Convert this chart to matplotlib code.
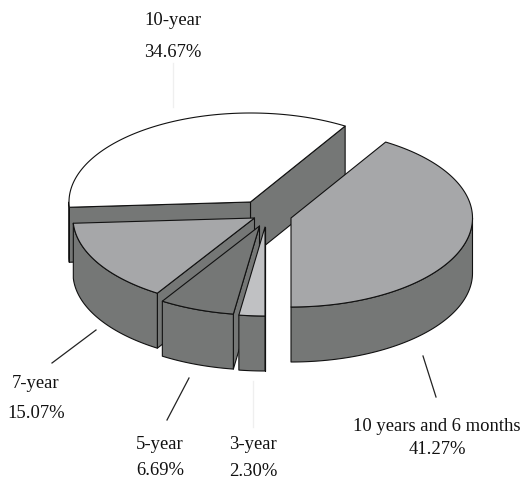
import numpy as np
import matplotlib
matplotlib.use('Agg')
import matplotlib.pyplot as plt
from matplotlib.patches import Polygon

# ---------------------------------------------------------
# 1. Data (in drawing order, counter-clockwise from bottom)
# ---------------------------------------------------------
names = ['10 years and 6 months', '10-year', '7-year', '5-year', '3-year']
shares = [41.27, 34.67, 15.07, 6.69, 2.30]

# ---------------------------------------------------------
# 2. Pie look
# ---------------------------------------------------------
centers = [(291, 218), (250.5, 202), (254.5, 218), (259.5, 226), (265, 227)]
top_colors = ['#a6a7a9', '#ffffff', '#a6a7a9', '#757776', '#c0c1c3']
side_color = '#757776'
rx, ry, depth = 181.5, 89, 55
edge = dict(edgecolor='#111111', linewidth=0.8, joinstyle='round')

plt.rcParams['font.family'] = ['Liberation Serif', 'DejaVu Serif']
fig = plt.figure(figsize=(5.24, 4.79), dpi=100)
ax = fig.add_axes([0, 0, 1, 1])
ax.set_xlim(0, 524)
ax.set_ylim(479, 0)
ax.axis('off')


def rim(c, a0, a1):
    t = np.radians(np.linspace(a0, a1, max(int(abs(a1 - a0)) * 2, 2)))
    return np.column_stack([c[0] + rx * np.cos(t), c[1] - ry * np.sin(t)])


def down(pts):
    return pts + np.array([0, depth])


# start angles from the shares
angles = -90 + np.concatenate([[0], np.cumsum(shares)]) * 3.6
# the big slice goes last, it sits over the 10-year cut face
order = [1, 2, 3, 4, 0]

for i in order:
    c = centers[i]
    a0, a1 = angles[i], angles[i + 1]
    z = 2 + order.index(i)
    apex = np.array([c])

    # cut faces, only the ones turned to the viewer
    for a, visible in ((a0, 0 < a0 % 360 < 180), (a1, 180 < a1 % 360 < 360)):
        if visible:
            p = rim(c, a, a)[:1]
            quad = np.vstack([apex, p, down(p), down(apex)])
            ax.add_patch(Polygon(quad, closed=True, facecolor=side_color, zorder=z, **edge))

    # outer wall, front half only
    lo, hi = a0 % 360, a0 % 360 + (a1 - a0)
    spans = [(max(lo, 180), min(hi, 360)), (max(lo, 540), min(hi, 720))]
    for s0, s1 in spans:
        if s1 > s0:
            arc = rim(c, s0, s1)
            wall = np.vstack([arc, down(arc)[::-1]])
            ax.add_patch(Polygon(wall, closed=True, facecolor=side_color, zorder=z, **edge))

    # top face
    top = np.vstack([apex, rim(c, a0, a1)])
    ax.add_patch(Polygon(top, closed=True, facecolor=top_colors[i], zorder=z, **edge))

# ---------------------------------------------------------
# 3. Leader lines and labels
# ---------------------------------------------------------
leaders = [((423, 356), (436, 397), '#222222'),
           ((52, 363), (96, 330), '#222222'),
           ((167, 420), (189, 378), '#222222'),
           ((253, 381), (253, 427), '#efefef'),
           ((173, 63), (173, 107), '#efefef')]
for p0, p1, col in leaders:
    ax.plot([p0[0], p1[0]], [p0[1], p1[1]], color=col, linewidth=0.9, zorder=1)

label_pos = [(437, 431, 454), (173, 25, 57), (36, 388, 418), (160, 449, 475), (253, 449, 476.5)]
for name, share, (x, y0, y1) in zip(names, shares, label_pos):
    ax.text(x, y0, name, ha='center', va='baseline', fontsize=13.4, color='#111111')
    ax.text(x, y1, f'{share:.2f}%', ha='center', va='baseline', fontsize=13.4, color='#111111')

fig.savefig('out.png', dpi=100, facecolor='white')
